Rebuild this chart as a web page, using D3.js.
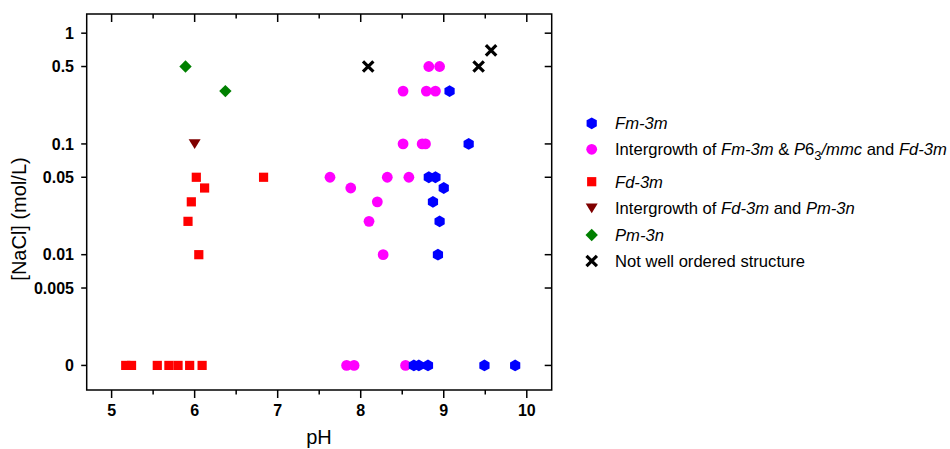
<!DOCTYPE html>
<html lang="en">
<head>
<meta charset="UTF-8">
<title>NaCl vs pH phase map</title>
<script src="https://d3js.org/d3.v7.min.js"></script>
<style>
    body { margin: 0; padding: 0; background: #fff; }
    svg { display: block; font-family: Arial, "Liberation Sans", sans-serif; }
    .tick-label { font-size: 16px; font-weight: bold; fill: #000; }
    .axis-title { font-size: 20px; fill: #000; }
    .legend-text { font-size: 16.6px; fill: #000; }
</style>
</head>
<body>
<svg id="chart" width="950" height="449"></svg>
<script>
    // series: [pH, NaCl mol/L], 0 means no NaCl (drawn on the broken "0" row)
    const fdData = [[5.17, 0], [5.24, 0], [5.55, 0], [5.69, 0], [5.80, 0], [5.94, 0], [6.09, 0],
        [6.05, 0.01], [5.92, 0.02], [5.96, 0.03], [6.12, 0.04], [6.02, 0.05], [6.83, 0.05]];
    const fdPmData = [[6.0, 0.1]];
    const pmData = [[5.89, 0.5], [6.37, 0.3]];
    const mixData = [[7.83, 0], [7.92, 0], [8.54, 0],
        [8.27, 0.01], [8.10, 0.02], [8.20, 0.03], [7.88, 0.04],
        [7.63, 0.05], [8.32, 0.05], [8.58, 0.05],
        [8.51, 0.1], [8.74, 0.1], [8.78, 0.1],
        [8.51, 0.3], [8.79, 0.3], [8.90, 0.3],
        [8.82, 0.5], [8.95, 0.5]];
    const fmData = [[8.64, 0], [8.70, 0], [8.81, 0], [9.49, 0], [9.86, 0],
        [8.93, 0.01], [8.95, 0.02], [8.87, 0.03], [9.00, 0.04],
        [8.82, 0.05], [8.90, 0.05], [9.30, 0.1], [9.07, 0.3]];
    const disorderData = [[8.09, 0.5], [9.42, 0.5], [9.57, 0.7]];

    const xTicks = [5, 6, 7, 8, 9, 10];
    const xMinor = [5.5, 6.5, 7.5, 8.5, 9.5];
    const yTicks = [0, 0.005, 0.01, 0.05, 0.1, 0.5, 1];
    const yTickLabels = ["0", "0.005", "0.01", "0.05", "0.1", "0.5", "1"];
    const zeroAt = 0.001; // where the "0" row sits on the log axis

    const svg = d3.select("#chart");
    const plotLeft = 86.7, plotRight = 551.7, plotTop = 14, plotBottom = 390;

    const x = d3.scaleLinear().domain([4.7, 10.3]).range([plotLeft, plotRight]);
    const y = d3.scaleLog().domain([0.0006, 1.49]).range([plotBottom, plotTop]);
    const yPos = v => y(v === 0 ? zeroAt : v);

    // marker shapes
    function hexPath(r) {
        const pts = d3.range(6).map(i => {
            const a = Math.PI / 2 + i * Math.PI / 3;
            return [r * Math.cos(a), r * Math.sin(a)];
        });
        return "M" + pts.join("L") + "Z";
    }
    const shapes = {
        hex: hexPath(5.9),
        circle: d3.symbol(d3.symbolCircle, Math.PI * 5.4 * 5.4)(),
        square: "M-4.6,-4.6H4.6V4.6H-4.6Z",
        tri: "M-6,-4.8L6,-4.8L0,5Z",
        diamond: "M0,-6.2L6.2,0L0,6.2L-6.2,0Z",
        cross: "M-5.2,-5.2L5.2,5.2M-5.2,5.2L5.2,-5.2"
    };

    const series = [
        { data: fdData, shape: "square", color: "#ff0000" },
        { data: fdPmData, shape: "tri", color: "#7f0000" },
        { data: pmData, shape: "diamond", color: "#008000" },
        { data: mixData, shape: "circle", color: "#ff00ff" },
        { data: fmData, shape: "hex", color: "#0000ff" },
        { data: disorderData, shape: "cross", color: "#000000" }
    ];

    function drawMarker(g, shape, color) {
        if (shape === "cross") {
            g.append("path").attr("d", shapes.cross)
                .attr("stroke", color).attr("stroke-width", 3.2).attr("fill", "none");
        } else {
            g.append("path").attr("d", shapes[shape]).attr("fill", color);
        }
    }

    series.forEach(s => {
        s.data.forEach(d => {
            const g = svg.append("g").attr("transform", `translate(${x(d[0])},${yPos(d[1])})`);
            drawMarker(g, s.shape, s.color);
        });
    });

    // frame
    const axisColor = "#000";
    svg.append("rect")
        .attr("x", plotLeft).attr("y", plotTop)
        .attr("width", plotRight - plotLeft).attr("height", plotBottom - plotTop)
        .attr("fill", "none").attr("stroke", axisColor).attr("stroke-width", 1.5);

    // x ticks: bottom outward, top inward
    xTicks.forEach(t => {
        svg.append("line").attr("x1", x(t)).attr("x2", x(t)).attr("y1", plotBottom).attr("y2", plotBottom + 8)
            .attr("stroke", axisColor).attr("stroke-width", 1.5);
        svg.append("line").attr("x1", x(t)).attr("x2", x(t)).attr("y1", plotTop).attr("y2", plotTop + 8)
            .attr("stroke", axisColor).attr("stroke-width", 1.5);
        svg.append("text").attr("class", "tick-label")
            .attr("x", x(t)).attr("y", 416).attr("text-anchor", "middle").text(t);
    });
    xMinor.forEach(t => {
        svg.append("line").attr("x1", x(t)).attr("x2", x(t)).attr("y1", plotBottom).attr("y2", plotBottom + 4.5)
            .attr("stroke", axisColor).attr("stroke-width", 1.5);
        svg.append("line").attr("x1", x(t)).attr("x2", x(t)).attr("y1", plotTop).attr("y2", plotTop + 4.5)
            .attr("stroke", axisColor).attr("stroke-width", 1.5);
    });

    // y ticks: left outward, right inward
    yTicks.forEach((t, i) => {
        const py = yPos(t);
        svg.append("line").attr("x1", plotLeft - 5.5).attr("x2", plotLeft).attr("y1", py).attr("y2", py)
            .attr("stroke", axisColor).attr("stroke-width", 1.5);
        svg.append("line").attr("x1", plotRight - 7).attr("x2", plotRight).attr("y1", py).attr("y2", py)
            .attr("stroke", axisColor).attr("stroke-width", 1.5);
        svg.append("text").attr("class", "tick-label")
            .attr("x", 74).attr("y", py + 5.8).attr("text-anchor", "end").text(yTickLabels[i]);
    });

    // axis titles
    svg.append("text").attr("class", "axis-title")
        .attr("x", 319).attr("y", 444).attr("text-anchor", "middle").text("pH");
    svg.append("text").attr("class", "axis-title")
        .attr("transform", "translate(26,219) rotate(-90)")
        .attr("text-anchor", "middle").text("[NaCl] (mol/L)");

    // legend; each label is a list of [text, style] runs
    const legendItems = [
        { shape: "hex", color: "#0000ff", y: 123.3, runs: [["Fm-3m", "i"]] },
        { shape: "circle", color: "#ff00ff", y: 149.3, runs: [["Intergrowth of ", ""], ["Fm-3m", "i"], [" & ", ""], ["P", "i"], ["6", ""], ["3", "sub"], ["/mmc", "i"], [" and ", ""], ["Fd-3m", "i"]] },
        { shape: "square", color: "#ff0000", y: 181.7, runs: [["Fd-3m", "i"]] },
        { shape: "tri", color: "#7f0000", y: 208.3, runs: [["Intergrowth of ", ""], ["Fd-3m", "i"], [" and ", ""], ["Pm-3n", "i"]] },
        { shape: "diamond", color: "#008000", y: 235, runs: [["Pm-3n", "i"]] },
        { shape: "cross", color: "#000000", y: 261, runs: [["Not well ordered structure", ""]] }
    ];
    legendItems.forEach(item => {
        const g = svg.append("g").attr("transform", `translate(591.7,${item.y})`);
        drawMarker(g, item.shape, item.color);
        const txt = svg.append("text").attr("class", "legend-text")
            .attr("x", 615).attr("y", item.y + 6);
        let prevSub = false;
        item.runs.forEach(r => {
            const ts = txt.append("tspan").text(r[0]);
            if (r[1] === "i") ts.attr("font-style", "italic");
            if (r[1] === "sub") {
                ts.attr("dy", 5).attr("font-size", "13px");
                prevSub = true;
            } else if (prevSub) {
                ts.attr("dy", -5);
                prevSub = false;
            }
        });
    });
</script>
</body>
</html>
